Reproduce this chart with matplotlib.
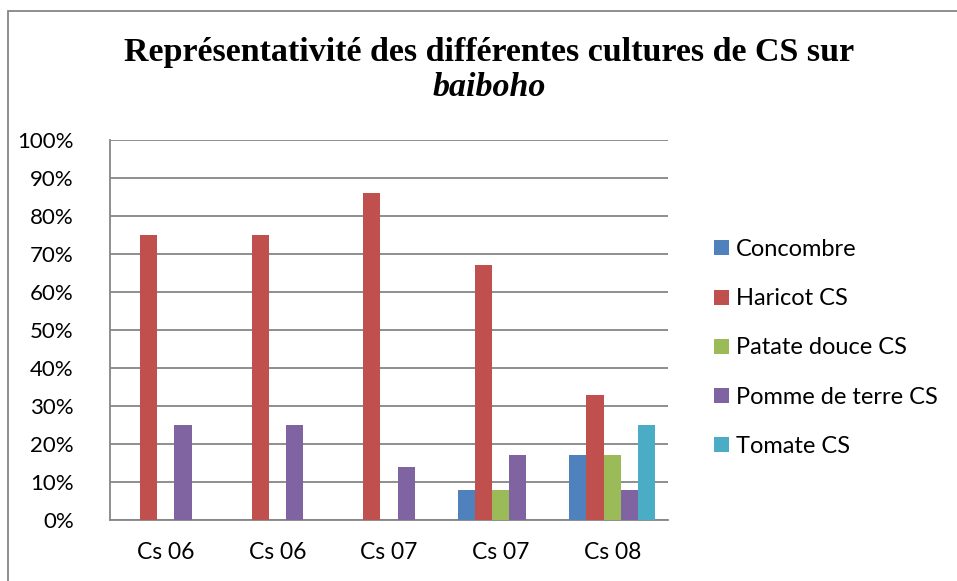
import matplotlib
matplotlib.use("Agg")
import matplotlib.pyplot as plt
from matplotlib.patches import Rectangle
import numpy as np

categories = ["Cs 06", "Cs 06", "Cs 07", "Cs 07", "Cs 08"]
series_names = ["Concombre", "Haricot CS", "Patate douce CS", "Pomme de terre CS", "Tomate CS"]
concombre = [0, 0, 0, 8, 17]
haricot = [75, 75, 86, 67, 33]
patate = [0, 0, 0, 8, 17]
pomme = [25, 25, 14, 17, 8]
tomate = [0, 0, 0, 0, 25]
colors = ["#4F81BD", "#C0504D", "#9BBB59", "#8064A2", "#4BACC6"]
yticks = [0, 10, 20, 30, 40, 50, 60, 70, 80, 90, 100]
ytick_labels = [f"{v}%" for v in yticks]

W, H = 957, 581
fig = plt.figure(figsize=(W / 100, H / 100), dpi=100)
ax = fig.add_axes([110 / W, 1 - 520 / H, 558 / W, 380 / H])

font = "Lato"
x = np.arange(len(categories))
w = 1 / 6.5
all_series = [concombre, haricot, patate, pomme, tomate]
for i, (vals, name, c) in enumerate(zip(all_series, series_names, colors)):
    ax.bar(x + (i - 2) * w, vals, width=w, color=c, label=name, zorder=3)

ax.set_xlim(-0.5, len(categories) - 0.5)
ax.set_ylim(0, 100)
ax.set_yticks(yticks)
ax.set_yticklabels(ytick_labels, fontsize=16, family=font)
ax.set_xticks(x)
ax.set_xticklabels(categories, fontsize=16.5, family=font)
ax.tick_params(axis="both", length=0)
ax.tick_params(axis="y", pad=26)
ax.tick_params(axis="x", pad=16)
ax.grid(axis="y", color="#868686", lw=1.3, zorder=0)
for s in ["top", "right"]:
    ax.spines[s].set_visible(False)
for s in ["left", "bottom"]:
    ax.spines[s].set_color("#868686")
    ax.spines[s].set_linewidth(1.3)

fig.text(489 / W, 1 - 52 / H, "Représentativité des différentes cultures de CS sur",
         ha="center", va="center", fontsize=24.5, fontweight="bold", family="Liberation Serif")
fig.text(489 / W, 1 - 88 / H, "baiboho",
         ha="center", va="center", fontsize=24.5, fontweight="bold", style="italic",
         family="Liberation Serif")

fig.legend(loc="center left", bbox_to_anchor=(705 / W, 1 - 348 / H), frameon=False,
           prop={"family": font, "size": 17}, handlelength=0.6, handleheight=0.6,
           handletextpad=0.3, labelspacing=1.19, borderaxespad=0)

fig.patches.append(Rectangle((8 / W, -1), 3, 2 - 11 / H, transform=fig.transFigure,
                             fill=False, edgecolor="#868686", lw=1.3))

fig.savefig("out.png", dpi=100)
